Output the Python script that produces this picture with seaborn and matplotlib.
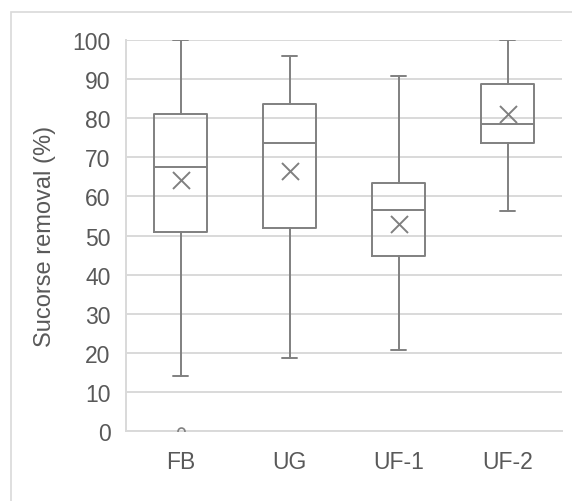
import seaborn as sns
import matplotlib.pyplot as plt
import pandas as pd
import numpy as np
from matplotlib.patches import Rectangle

sns.set_style("white")
plt.rcParams['font.family'] = ['Liberation Sans', 'DejaVu Sans']

# five-number summaries
groups = ["FB", "UG", "UF-1", "UF-2"]
whisker_lo = [14.0, 18.7, 20.8, 56.2]
q1 = [50.8, 51.8, 44.7, 73.6]
median = [67.4, 73.6, 56.4, 78.6]
q3 = [81.2, 83.7, 63.5, 88.8]
whisker_hi = [100.0, 96.0, 90.8, 100.0]
means = [64.3, 66.6, 52.9, 81.0]
outliers = [[0.0], [], [], []]

line_col = '#808080'
grid_col = '#d9d9d9'
text_col = '#595959'

fig = plt.figure(figsize=(5.72, 5.02), dpi=100)
ax = fig.add_axes([126/572, 1-432/502, 436/572, 391/502])

# outer chart frame (Excel style)
fig.patches.append(Rectangle((11/572, -0.05), 1.0, 1-13/502+0.05, transform=fig.transFigure,
                             fill=False, edgecolor='#d9d9d9', linewidth=1.2))

stats = []
for i, g in enumerate(groups):
    stats.append(dict(label=g, whislo=whisker_lo[i], q1=q1[i], med=median[i], q3=q3[i],
                      whishi=whisker_hi[i], fliers=outliers[i], mean=means[i]))

lineprops = {'color': line_col, 'linewidth': 1.4}
ax.bxp(stats, positions=range(len(groups)), widths=0.49, showmeans=False,
       boxprops=lineprops, medianprops=lineprops, whiskerprops=lineprops,
       capprops=lineprops, capwidths=0.13,
       flierprops={'marker': 'o', 'markersize': 5, 'markerfacecolor': 'none',
                   'markeredgecolor': line_col, 'markeredgewidth': 1.2},
       manage_ticks=False, zorder=3)

df_mean = pd.DataFrame({'group': groups, 'mean': means})
sns.scatterplot(data=df_mean, x='group', y='mean', marker='x', s=150, color=line_col,
                linewidth=1.4, ax=ax, zorder=4, legend=False)

ax.set_xlim(-0.5, 3.5)
ax.set_ylim(0, 100)
ax.set_yticks(np.arange(0, 101, 10))
ax.set_xticks(range(len(groups)))
ax.set_xticklabels(groups)
ax.yaxis.grid(True, color=grid_col, linewidth=1.4, zorder=0)
ax.set_axisbelow(True)
for s in ['top', 'right']:
    ax.spines[s].set_visible(False)
ax.spines['left'].set_color(grid_col)
ax.spines['left'].set_linewidth(1.4)
ax.spines['bottom'].set_color(grid_col)
ax.spines['bottom'].set_linewidth(1.4)
ax.tick_params(axis='y', length=0, pad=11, labelsize=16.5, labelcolor=text_col)
ax.tick_params(axis='x', length=0, pad=14, labelsize=16.5, labelcolor=text_col)
ax.set_xlabel('')
ax.set_ylabel('Sucorse removal (%)', fontsize=17, color=text_col, labelpad=12)

plt.savefig("out.png", dpi=100)
